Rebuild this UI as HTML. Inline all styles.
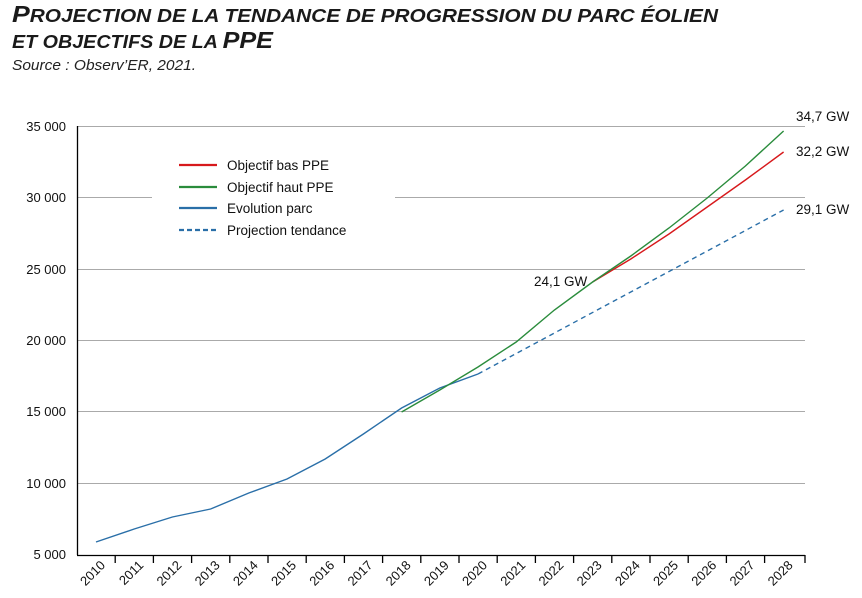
<!DOCTYPE html>
<html><head><meta charset="utf-8"><style>
html,body{margin:0;padding:0;background:#fff;}
body{width:862px;height:598px;overflow:hidden;position:relative;font-family:"Liberation Sans",sans-serif;}
</style></head><body>
<svg width="862" height="598" style="position:absolute;left:0;top:0" font-family="Liberation Sans, sans-serif" font-size="12.5" fill="#111">
<g font-weight="bold" font-style="italic" fill="#1a1a1a">
<text x="12" y="22" font-size="18" textLength="706" lengthAdjust="spacingAndGlyphs"><tspan font-size="23">P</tspan>ROJECTION DE LA TENDANCE DE PROGRESSION DU PARC ÉOLIEN</text>
<text x="12" y="48" font-size="18" textLength="261" lengthAdjust="spacingAndGlyphs">ET OBJECTIFS DE LA <tspan font-size="23">PPE</tspan></text>
</g>
<text x="12" y="70" font-size="15" font-style="italic" fill="#222" textLength="184" lengthAdjust="spacingAndGlyphs">Source : Observ’ER, 2021.</text>
<g stroke="#aaa" stroke-width="1">
<line x1="77" y1="126.5" x2="805" y2="126.5"/>
<line x1="77" y1="197.5" x2="152" y2="197.5"/>
<line x1="395" y1="197.5" x2="805" y2="197.5"/>
<line x1="77" y1="269.5" x2="805" y2="269.5"/>
<line x1="77" y1="340.5" x2="805" y2="340.5"/>
<line x1="77" y1="411.5" x2="805" y2="411.5"/>
<line x1="77" y1="483.5" x2="805" y2="483.5"/>
</g>
<g stroke="#000" stroke-width="1.3">
<line x1="77.5" y1="126" x2="77.5" y2="555"/>
<line x1="77" y1="555.5" x2="805" y2="555.5"/>
<line x1="115.2" y1="555" x2="115.2" y2="563"/><line x1="153.4" y1="555" x2="153.4" y2="563"/><line x1="191.6" y1="555" x2="191.6" y2="563"/><line x1="229.8" y1="555" x2="229.8" y2="563"/><line x1="268" y1="555" x2="268" y2="563"/><line x1="306.2" y1="555" x2="306.2" y2="563"/><line x1="344.4" y1="555" x2="344.4" y2="563"/><line x1="382.6" y1="555" x2="382.6" y2="563"/><line x1="420.8" y1="555" x2="420.8" y2="563"/><line x1="459" y1="555" x2="459" y2="563"/><line x1="497.2" y1="555" x2="497.2" y2="563"/><line x1="535.4" y1="555" x2="535.4" y2="563"/><line x1="573.6" y1="555" x2="573.6" y2="563"/><line x1="611.8" y1="555" x2="611.8" y2="563"/><line x1="650" y1="555" x2="650" y2="563"/><line x1="688.2" y1="555" x2="688.2" y2="563"/><line x1="726.4" y1="555" x2="726.4" y2="563"/><line x1="764.6" y1="555" x2="764.6" y2="563"/><line x1="805" y1="555" x2="805" y2="563"/>
</g>
<g text-anchor="end" font-size="13">
<text x="66" y="131">35 000</text><text x="66" y="202">30 000</text><text x="66" y="274">25 000</text><text x="66" y="345">20 000</text><text x="66" y="416">15 000</text><text x="66" y="488">10 000</text><text x="66" y="559">5 000</text>
</g>
<g text-anchor="end" font-size="13">
<text transform="translate(106,566) rotate(-45)">2010</text>
<text transform="translate(144.2,566) rotate(-45)">2011</text>
<text transform="translate(182.4,566) rotate(-45)">2012</text>
<text transform="translate(220.6,566) rotate(-45)">2013</text>
<text transform="translate(258.8,566) rotate(-45)">2014</text>
<text transform="translate(297,566) rotate(-45)">2015</text>
<text transform="translate(335.2,566) rotate(-45)">2016</text>
<text transform="translate(373.4,566) rotate(-45)">2017</text>
<text transform="translate(411.6,566) rotate(-45)">2018</text>
<text transform="translate(449.8,566) rotate(-45)">2019</text>
<text transform="translate(488,566) rotate(-45)">2020</text>
<text transform="translate(526.2,566) rotate(-45)">2021</text>
<text transform="translate(564.4,566) rotate(-45)">2022</text>
<text transform="translate(602.6,566) rotate(-45)">2023</text>
<text transform="translate(640.8,566) rotate(-45)">2024</text>
<text transform="translate(679,566) rotate(-45)">2025</text>
<text transform="translate(717.2,566) rotate(-45)">2026</text>
<text transform="translate(755.4,566) rotate(-45)">2027</text>
<text transform="translate(793.6,566) rotate(-45)">2028</text>
</g>
<g fill="none" stroke-width="1.4">
<polyline stroke="#2a6fa8" stroke-dasharray="5,4" points="478,374 783.6,210"/>
<polyline stroke="#2a6fa8" points="96,542 134.2,529 172.4,517 210.6,509 248.8,493 287,479 325.2,459 363.4,434 401.6,408 439.8,388 478,374"/>
<polyline stroke="#d7191c" points="592.6,282 630.8,259 669,234 707.2,207 745.4,180 783.6,152"/>
<polyline stroke="#2a8c3c" points="401.6,412 439.8,390 478,367 516.2,342 554.4,310 592.6,282 630.8,256 669,228 707.2,198 745.4,166 783.6,131"/>
</g>
<g stroke-width="2.2">
<line x1="179" y1="165" x2="217" y2="165" stroke="#d7191c"/>
<line x1="179" y1="187" x2="217" y2="187" stroke="#2a8c3c"/>
<line x1="179" y1="208" x2="217" y2="208" stroke="#2a6fa8"/>
<line x1="179" y1="230" x2="217" y2="230" stroke="#2a6fa8" stroke-dasharray="5,3"/>
</g>
<g font-size="13.5">
<text x="227" y="170">Objectif bas PPE</text>
<text x="227" y="192">Objectif haut PPE</text>
<text x="227" y="213">Evolution parc</text>
<text x="227" y="235">Projection tendance</text>
<text x="796" y="121">34,7 GW</text>
<text x="796" y="156">32,2 GW</text>
<text x="796" y="214">29,1 GW</text>
<text x="534" y="286">24,1 GW</text>
</g>
</svg>
</body></html>
